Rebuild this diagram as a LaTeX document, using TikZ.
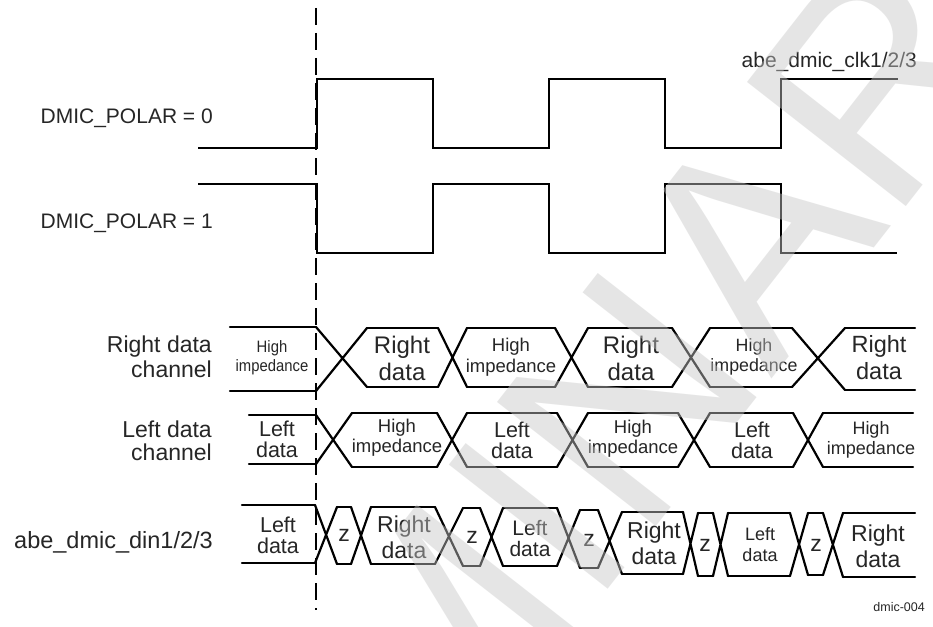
\documentclass[tikz,border=0pt]{standalone}
\usepackage{fontspec}
\setmainfont{Liberation Sans}
\newcommand\fsz[2]{\fontsize{#1}{#2}\selectfont}
\newcommand\busrow[1]{%
  \foreach \a/\b/\t/\u [count=\i, remember=\b as \pb (initially 0), remember=\t as \pt (initially 0), remember=\u as \pu (initially 0)] in {#1} {%
    \draw[bus] (\a,\t) -- (\b,\t) (\a,\u) -- (\b,\u);
    \ifnum\i>1 \draw[bus] (\pb,\pt) -- (\a,\u) (\pb,\pu) -- (\a,\t);\fi
  }}
\begin{document}
\begin{tikzpicture}[x=1pt,y=-1pt,
  wave/.style={line width=2.3pt, line join=miter},
  bus/.style={line width=2.2pt, line cap=round, line join=round},
  guide/.style={line width=1.2pt, dash pattern=on 17pt off 8pt},
  lbl/.style={inner sep=0pt, text=black!85, align=center},
  side/.style={inner sep=0pt, text=black!85},
  wm/.style={rotate=52, inner sep=0pt, text=black!22, text opacity=0.45, font=\fsz{293}{293}}]
\useasboundingbox (0,0) rectangle (933,626);
\fill[white] (0,0) rectangle (933,626);

% clocks
\draw[wave] (198,148) -- (317,148) -- (317,79) -- (433,79) -- (433,148) -- (549,148) -- (549,79) -- (665,79) -- (665,148) -- (781,148) -- (781,79) -- (898,79);
\draw[wave] (198,184) -- (317,184) -- (317,253) -- (433,253) -- (433,184) -- (549,184) -- (549,253) -- (665,253) -- (665,184) -- (781,184) -- (781,253) -- (897,253);

% reference line
\coordinate (dtop) at (316,8);
\coordinate (dbot) at (316,610);
\draw[guide] (dtop) -- (dbot);

% buses
\busrow{230/316/327/391, 367/438/328/387, 467/555/328/387, 588/672/328/387, 710/792/328/387, 845/915/328/390}
\busrow{249/316/415/464, 352/437/413/467, 467/557/413/467, 588/678/413/467, 710/793/413/467, 823/913/413/467}
\busrow{242/315/505/563, 337/351/507/564, 371/435/507/564, 463/480/508/566, 503/557/508/566, 580/598/510/568, 622/683/512/574, 698/713/513/576, 728/790/513/576, 808/823/513/575, 843/915/513/577}

% side labels
\node[side, anchor=base east, font=\fsz{21}{24}] (pol0) at (213,123) {DMIC\_POLAR = 0};
\node[side, anchor=base east, font=\fsz{21}{24}] (pol1) at (213,228) {DMIC\_POLAR = 1};
\node[side, anchor=base east, font=\fsz{21}{24}] (clk) at (917,67) {abe\_dmic\_clk1/2/3};
\node[side, anchor=north east, align=right, font=\fsz{23}{25}] (rch) at (212,336) {Right data\\channel};
\node[side, anchor=north east, align=right, font=\fsz{23}{22.5}] (lch) at (212,421) {Left data\\channel};
\node[side, anchor=base east, font=\fsz{23.5}{26}] (din) at (213,548) {abe\_dmic\_din1/2/3};
\node[side, anchor=base east, font=\fsz{12.5}{14}] (fig) at (925,611) {dmic-004};

% row 1 labels
\node[lbl, xscale=0.9, font=\fsz{16.5}{19}] (a0) at (272,358) {High\\impedance};
\node[lbl, font=\fsz{24}{27}] (a1) at (402,358) {Right\\data};
\node[lbl, font=\fsz{18.5}{20.5}] (a2) at (511,357) {High\\impedance};
\node[lbl, font=\fsz{24}{27}] (a3) at (631,358) {Right\\data};
\node[lbl, font=\fsz{17.8}{20}] (a4) at (754,357) {High\\impedance};
\node[lbl, font=\fsz{23.5}{27}] (a5) at (879,358) {Right\\data};

% row 2 labels
\node[lbl, font=\fsz{21.5}{21}] (b0) at (277,439) {Left\\data};
\node[lbl, font=\fsz{18.5}{20}] (b1) at (397,438) {High\\impedance};
\node[lbl, font=\fsz{21.5}{21}] (b2) at (512,440) {Left\\data};
\node[lbl, font=\fsz{18.5}{20}] (b3) at (633,439) {High\\impedance};
\node[lbl, font=\fsz{21.5}{21}] (b4) at (752,440) {Left\\data};
\node[lbl, font=\fsz{18}{20.5}] (b5) at (871,440) {High\\impedance};

% row 3 labels
\node[lbl, font=\fsz{21.5}{21}] (c0) at (278,535) {Left\\data};
\node[lbl, font=\fsz{23}{26}] (c1) at (344,535) {z};
\node[lbl, font=\fsz{23}{26}] (c2) at (404,537) {Right\\data};
\node[lbl, font=\fsz{23}{26}] (c3) at (472,537) {z};
\node[lbl, font=\fsz{21}{21}] (c4) at (530,538) {Left\\data};
\node[lbl, font=\fsz{23}{26}] (c5) at (589,540) {z};
\node[lbl, font=\fsz{23}{26}] (c6) at (654,543) {Right\\data};
\node[lbl, font=\fsz{23}{26}] (c7) at (705,545) {z};
\node[lbl, font=\fsz{18}{21}] (c8) at (760,545) {Left\\data};
\node[lbl, font=\fsz{23}{26}] (c9) at (816,545) {z};
\node[lbl, font=\fsz{23}{26}] (c10) at (878,546) {Right\\data};

% watermark
\node[wm] (wmark) at (450,627) {PRELIMINARY};
\end{tikzpicture}
\end{document}
